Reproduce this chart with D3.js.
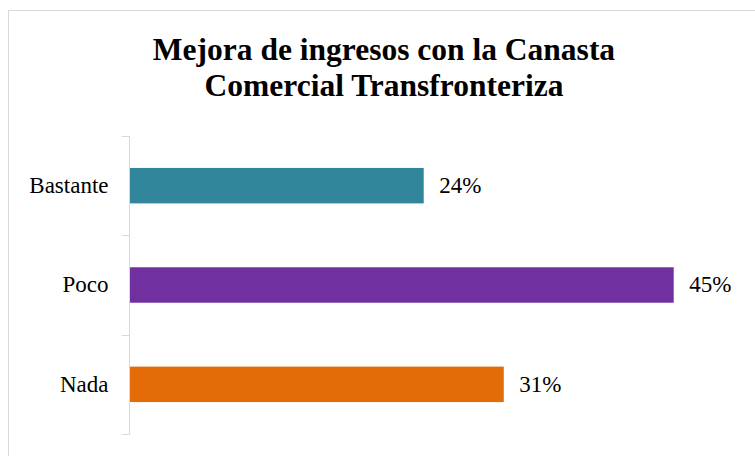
<!DOCTYPE html>
<html>
<head>
<meta charset="utf-8">
<script src="https://cdn.jsdelivr.net/npm/d3@7"></script>
<style>
  body { margin: 0; background: #fff; }
  svg { display: block; font-family: "Liberation Serif", "Times New Roman", serif; }
</style>
</head>
<body>
<svg id="chart" width="755" height="456"></svg>
<script>
// data
const categories = ["Bastante", "Poco", "Nada"];
const shares = [0.2425, 0.4489, 0.3086];
const barColors = ["#31869B", "#7030A0", "#E36C09"];
const titleLines = ["Mejora de ingresos con la Canasta", "Comercial Transfronteriza"];

const width = 755, height = 456;
const plot = { left: 130, top: 136, bottom: 434, right: 735.6 };

const svg = d3.select("#chart");

// outer frame (runs off the right/bottom edge like the original)
svg.append("rect")
  .attr("x", 8.5).attr("y", 10.5)
  .attr("width", 800).attr("height", 500)
  .attr("fill", "none")
  .attr("stroke", "#D9D9D9")
  .attr("stroke-width", 1);

var x = d3.scaleLinear()
  .domain([0, 0.5])
  .range([plot.left, plot.right]);

var y = d3.scaleBand()
  .domain(categories)
  .range([plot.top, plot.bottom])
  .paddingInner(0.643)
  .paddingOuter(0.3215);

// title
svg.append("text")
  .attr("x", 384)
  .attr("text-anchor", "middle")
  .attr("font-size", 31.5)
  .attr("font-weight", "bold")
  .attr("fill", "#000")
  .selectAll("tspan")
  .data(titleLines)
  .join("tspan")
  .attr("x", 384)
  .attr("y", (d, i) => 60 + i * 36)
  .text(d => d);

// category axis
var yAxis = g => g
  .attr("transform", `translate(${plot.left - 0.5},0)`)
  .call(d3.axisLeft(y).tickSize(0).tickPadding(21))
  .call(g => g.select(".domain").remove())
  .call(g => g.selectAll("text")
    .attr("font-family", "\"Liberation Serif\", \"Times New Roman\", serif")
    .attr("font-size", 23)
    .attr("fill", "#000")
    .attr("dy", "0.32em"));

svg.append("g").call(yAxis);

// axis line and boundary ticks
const step = y.step();
const bounds = d3.range(categories.length + 1).map(i => plot.top + i * step);

svg.append("line")
  .attr("x1", plot.left - 0.5).attr("x2", plot.left - 0.5)
  .attr("y1", plot.top).attr("y2", plot.bottom)
  .attr("stroke", "#D9D9D9")
  .attr("stroke-width", 1);

svg.append("g")
  .selectAll("line")
  .data(bounds)
  .join("line")
  .attr("x1", plot.left - 8).attr("x2", plot.left - 0.5)
  .attr("y1", d => Math.round(d) + 0.5).attr("y2", d => Math.round(d) + 0.5)
  .attr("stroke", "#D9D9D9")
  .attr("stroke-width", 1);

// bars
svg.append("g")
  .selectAll("rect")
  .data(categories)
  .join("rect")
  .attr("x", x(0))
  .attr("y", d => y(d))
  .attr("width", (d, i) => x(shares[i]) - x(0))
  .attr("height", y.bandwidth())
  .attr("fill", (d, i) => barColors[i]);

// value labels
const fmt = d3.format(".0%");
svg.append("g")
  .selectAll("text")
  .data(categories)
  .join("text")
  .attr("x", (d, i) => x(shares[i]) + 15.5)
  .attr("y", d => y(d) + y.bandwidth() / 2)
  .attr("dy", "0.32em")
  .attr("font-size", 23)
  .attr("fill", "#000")
  .text((d, i) => fmt(shares[i]));
</script>
</body>
</html>
